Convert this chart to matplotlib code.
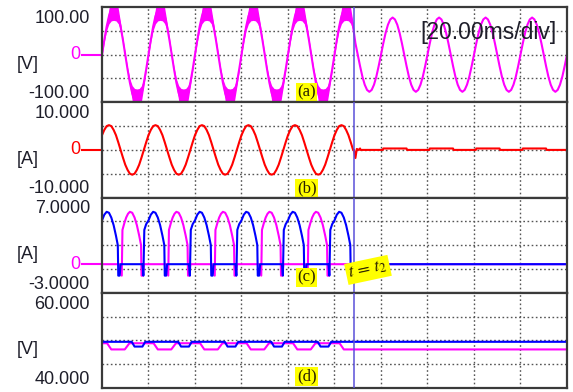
import numpy as np
import matplotlib
matplotlib.use("Agg")
import matplotlib.pyplot as plt
from matplotlib.transforms import blended_transform_factory

plt.rcParams['font.family'] = ['Liberation Sans', 'DejaVu Sans']
plt.rcParams['mathtext.fontset'] = 'stix'

# time base (ms)
period = 20.0
t_end = 200.0
t_switch = 108.4          # cursor t = t2
time_label = "[20.00ms/div]"

cycle_t = [0, 1, 2, 3, 4, 5, 6, 7, 8, 9, 10, 11, 12, 13, 14, 15, 16, 17, 18, 19]

# (a) supply voltage [V]
va_before = [0, 31, 59, 81, 95, 100, 95, 81, 59, 31, 0, -31, -59, -81, -95, -100, -95, -81, -59, -31]
va_ripple = [3, 4, 8, 16, 24, 28, 24, 16, 8, 4, 3, 4, 8, 16, 24, 28, 24, 16, 8, 4]
va_after = [0, 24, 46, 63, 74, 78, 74, 63, 46, 24, 0, -24, -46, -63, -74, -78, -74, -63, -46, -24]

# (b) line current [A]
ib_before = [3.1, 4.2, 5.0, 5.2, 5.0, 4.2, 3.1, 1.6, 0.0, -1.6, -3.1, -4.2, -5.0, -5.2, -5.0,
             -4.2, -3.1, -1.6, 0.0, 1.6]
ib_after_t = [0.0, 0.8, 1.0, 11.0, 11.2]
ib_after_v = [0.0, 0.0, 0.3, 0.3, 0.0]
ib_step_t = [108.4, 109.0, 109.6, 110.4]
ib_step_v = [0.0, -1.7, 0.2, 0.0]

# (c) capacitor currents [A]
ic1_t = [0.0, 1.0, 2.0, 3.0, 4.0, 5.0, 6.0, 6.8, 7.0, 7.6, 8.0, 17.4, 17.8, 18.2, 19.0]
ic1_v = [4.6, 5.2, 5.5, 5.4, 4.9, 4.1, 3.0, 2.0, -1.2, -1.2, 0.0, 0.0, -1.2, 3.6, 4.2]
ic2_t = [0.0, 7.6, 8.5, 8.8, 9.6, 10.4, 11.2, 12.0, 13.0, 14.0, 15.0, 16.0, 16.8, 17.0, 17.6, 18.0]
ic2_v = [0.0, 0.0, -1.2, 3.6, 4.3, 4.9, 5.3, 5.5, 5.4, 4.9, 4.1, 3.0, 2.0, -1.2, -1.2, 0.0]

# (d) capacitor voltages [V]
vc1_t = [0.0, 12.8, 14.0, 17.4, 18.6]
vc1_v = [49.7, 49.7, 48.7, 48.7, 49.7]
vc2_t = [0.0, 2.2, 4.0, 9.8, 11.8]
vc2_v = [49.4, 49.4, 48.1, 48.1, 49.4]
vc1_after = 49.7
vc2_after = 48.1

panel_ranges = [(-100, 100), (-10, 10), (-3, 7), (40, 60)]
top_labels = ["100.00", "10.000", "7.0000", "60.000"]
bottom_labels = ["-100.00", "-10.000", "-3.0000", "40.000"]
units = ["[V]", "[A]", "[A]", "[V]"]
zero_colors = ["#ff00ff", "#ff0000", "#ff00ff", None]
panel_tags = ["(a)", "(b)", "(c)", "(d)"]
tag_y = [0.10, 0.10, 0.16, 0.12]


def tile(bt, bv):
    n = int(t_end // period)
    bt = np.asarray(bt, float)
    bv = np.asarray(bv, float)
    t = np.concatenate([bt + k * period for k in range(n)] + [[t_end]])
    v = np.concatenate([bv] * n + [bv[:1]])
    return t, v


def split(pre, post):
    t1, v1 = pre
    t2, v2 = post
    m1 = t1 < t_switch
    m2 = t2 >= t_switch
    return np.concatenate([t1[m1], t2[m2]]), np.concatenate([v1[m1], v2[m2]])


magenta = "#ff00ff"
red = "#ff0000"
blue = "#0000ff"
cursor = "#5a4fd8"
frame = "#3a3a3a"
txt = "#1e1e2a"

fig = plt.figure(figsize=(5.73, 3.92), dpi=100)
gs = fig.add_gridspec(4, 1, left=0.178, right=0.9895, top=0.982, bottom=0.0102, hspace=0)
axes = [fig.add_subplot(gs[i]) for i in range(4)]

# (a)
ax = axes[0]
t, v = tile(cycle_t, va_before)
_, r = tile(cycle_t, va_ripple)
m = t <= t_switch
ax.fill_between(t[m], v[m] - r[m], v[m] + r[m], color=magenta, lw=0)
t_a, v_a = split(tile(cycle_t, va_before), tile(cycle_t, va_after))
ax.plot(t_a, v_a, color=magenta, lw=1.5)

# (b)
ax = axes[1]
tb_pre, vb_pre = tile(cycle_t, ib_before)
tb_post, vb_post = tile(ib_after_t, ib_after_v)
m1 = tb_pre < t_switch
m2 = tb_post > ib_step_t[-1]
tb = np.concatenate([tb_pre[m1], ib_step_t, tb_post[m2]])
vb = np.concatenate([vb_pre[m1], ib_step_v, vb_post[m2]])
ax.plot(tb, vb, color=red, lw=1.5)

# (c)
ax = axes[2]
t2c, v2c = tile(ic2_t, ic2_v)
m = t2c < t_switch
ax.plot(np.append(t2c[m], [t_switch, t_end]), np.append(v2c[m], [0, 0]), color=magenta, lw=1.5)
t1c, v1c = tile(ic1_t, ic1_v)
m = t1c < t_switch
ax.plot(np.append(t1c[m], [t_switch, t_end]), np.append(v1c[m], [0, 0]), color=blue, lw=1.5)

# (d)
ax = axes[3]
t2d, v2d = tile(vc2_t, vc2_v)
m = t2d < t_switch
ax.plot(np.append(t2d[m], [t_switch, t_end]), np.append(v2d[m], [vc2_after, vc2_after]),
        color=magenta, lw=1.5)
t1d, v1d = tile(vc1_t, vc1_v)
m = t1d < t_switch
ax.plot(np.append(t1d[m], [t_switch, t_end]), np.append(v1d[m], [vc1_after, vc1_after]),
        color=blue, lw=1.5)

for i, ax in enumerate(axes):
    lo, hi = panel_ranges[i]
    ax.set_xlim(0, t_end)
    ax.set_ylim(lo, hi)
    ax.set_xticks(np.arange(period, t_end, period))
    ax.set_yticks([lo + (hi - lo) * q / 4 for q in (1, 2, 3)])
    ax.tick_params(length=0, labelleft=False, labelbottom=False)
    ax.grid(True, color="#555555", lw=1.0, linestyle=(0, (1.2, 1.8)))
    ax.set_axisbelow(True)
    for s in ax.spines.values():
        s.set_color(frame)
        s.set_linewidth(1.6)
    ax.axvline(t_switch, color=cursor, lw=1.1, zorder=5)

    ax.text(-0.026, 0.88, top_labels[i], transform=ax.transAxes, ha="right", va="center",
            fontsize=13, color=txt)
    ax.text(-0.026, 0.09, bottom_labels[i], transform=ax.transAxes, ha="right", va="center",
            fontsize=13, color=txt)
    ax.text(-0.159, 0.40, units[i], transform=ax.transAxes, ha="center", va="center",
            fontsize=13, color=txt)
    if zero_colors[i]:
        tr = blended_transform_factory(ax.transAxes, ax.transData)
        ax.text(-0.047, 0, "0", transform=tr, ha="right", va="center", fontsize=13,
                color=zero_colors[i])
        ax.plot([-0.043, 0], [0, 0], transform=tr, color=zero_colors[i], lw=1.5, clip_on=False)
    ax.text(0.44, tag_y[i], panel_tags[i], transform=ax.transAxes, ha="center", va="center",
            fontsize=12, family="Liberation Serif", color="#2a2000", zorder=6,
            bbox=dict(boxstyle="square,pad=0.08", fc="#ffff00", ec="none"))

axes[0].text(0.832, 0.73, time_label, transform=axes[0].transAxes, ha="center", va="center",
             fontsize=16.5, color=txt, zorder=6)
axes[2].text(0.572, 0.24, r"$t\,=\,t_2$", transform=axes[2].transAxes, ha="center", va="center",
             fontsize=13, rotation=12, color="#2a2000", zorder=6,
             bbox=dict(boxstyle="square,pad=0.12", fc="#ffff00", ec="none"))

fig.savefig("out.png", dpi=100)
